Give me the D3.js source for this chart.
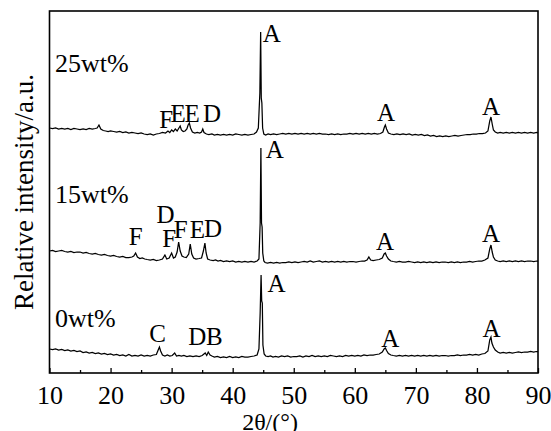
<!DOCTYPE html>
<html>
<head>
<meta charset="utf-8">
<script src="https://cdn.jsdelivr.net/npm/d3@7"></script>
<style>
  body { margin: 0; background: #fff; }
  svg { display: block; }
  svg text { font-family: "Liberation Serif", "DejaVu Serif", serif; fill: #000; }
</style>
</head>
<body>
<svg id="chart"></svg>
<script>
// 2θ (deg), relative intensity (a.u.), series already stacked
const pattern0 = [
  [10,24],[10.5,23.5],[11,24],[11.5,23],[12,23.5],[12.5,22.5],[13,23],[13.5,22],[14,22.5],[14.5,21.5],
  [15,22],[15.5,20.5],[16,21],[16.5,20],[17,20.5],[17.5,19.5],[18,20],[18.5,19],[19,19.5],[19.5,18.5],
  [20,19],[20.5,18],[21,18.5],[21.5,17.5],[22,18],[22.5,17],[23,18.5],[23.5,17],[24,17.5],[24.5,17],
  [25,18],[25.5,17],[26,17.5],[26.5,17],[27,18],[27.5,18.5],[27.8,23],[28.0,26],[28.2,22],[28.5,18],
  [28.9,17],[29.3,18],[29.7,17],[30.1,17.5],[30.5,20],[30.8,17],[31.2,17.5],[31.6,17],[32,17.5],[32.5,16.5],
  [33,17],[33.5,16.5],[34,17],[34.5,16.5],[35,17.5],[35.5,20],[35.75,17.5],[36.0,21],[36.3,18],[36.6,17],
  [37,16],[37.5,16.5],[38,15.5],[38.5,16],[39,15.5],[39.5,16.5],[40,15.5],[40.5,16],[41,15.5],[41.5,16.5],
  [42,16],[42.5,16],[43,16.5],[43.5,17],[44.0,18],[44.3,24],[44.5,60],[44.65,98],[44.75,72],[44.85,70],
  [44.95,28],[45.15,19],[45.4,17],[45.8,16.5],[46.2,17],[46.6,16],[47,16.5],[47.5,16],[48,17],[48.5,16.5],
  [49,17],[49.5,16],[50,16.5],[50.5,16.5],[51,17],[51.5,16],[52,17],[52.5,16.5],[53,17.5],[53.5,16.5],
  [54,17],[54.5,16.5],[55,17],[55.5,16.5],[56,17.5],[56.5,17],[57,16.5],[57.5,17],[58,16.5],[58.5,17.5],
  [59,17],[59.5,17.5],[60,17],[60.5,17.5],[61,17],[61.5,18],[62,17.5],[62.5,18],[63,18],[63.5,18.5],
  [64,19],[64.5,21],[64.8,24],[65.0,25],[65.2,22.5],[65.5,19.5],[65.9,18],[66.3,17.5],[66.8,17],[67.3,17.5],
  [67.8,17],[68.3,17.5],[68.8,17],[69.3,17.5],[69.8,17],[70.3,17.5],[70.8,17],[71.3,17.5],[71.8,17],[72.3,17.5],
  [72.8,17],[73.3,17.5],[73.8,17],[74.3,17.5],[74.8,17.5],[75.3,17],[75.8,17.5],[76.3,17.5],[76.8,18],[77.3,17.5],
  [77.8,18],[78.3,18],[78.8,18.5],[79.3,18],[79.8,18.5],[80.3,18],[80.8,19],[81.3,19.5],[81.8,22],[82.1,33],
  [82.3,36],[82.45,30],[82.7,26],[83.0,23],[83.4,21],[83.8,20],[84.3,20.5],[84.8,20],[85.3,20.5],[85.8,20],
  [86.3,20.5],[86.8,21],[87.3,20.5],[87.8,21],[88.3,21],[88.8,21.5],[89.3,21],[89.7,21.5],[90,21.5]
];

const pattern15 = [
  [10,122],[10.5,122.5],[11,121.5],[11.5,122],[12,122.5],[12.5,121.5],[13,121],[13.5,121.5],[14,120.5],[14.5,121],
  [15,121],[15.5,120],[16,120.5],[16.5,119.5],[17,119],[17.5,119.5],[18,118.5],[18.5,118],[19,118.5],[19.5,117.5],
  [20,117],[20.5,117.5],[21,116.5],[21.5,116],[22,116.5],[22.5,115.5],[23,115.5],[23.5,116],[23.8,117],[24.1,120],
  [24.4,116],[24.8,114.5],[25.2,115],[25.6,114],[26,113.5],[26.5,113],[27,113.5],[27.5,112.5],[28,113],[28.5,114],
  [28.9,118],[29.2,114],[29.6,115],[30.0,120],[30.3,115],[30.6,116],[30.9,121],[31.15,131],[31.4,122],[31.7,117],
  [32,116],[32.4,115.5],[32.8,119],[33.05,129],[33.3,119],[33.6,115],[34,114],[34.5,114.5],[34.9,115],[35.2,122],
  [35.45,130],[35.65,120],[35.9,114],[36.3,113],[36.8,112.5],[37.2,113],[37.6,112],[38,112.5],[38.5,111.5],[39,112],
  [39.5,111.5],[40,112],[40.5,111],[41,111.5],[41.5,111],[42,111.5],[42.5,111],[43,111.5],[43.5,111],[44,112],
  [44.3,114],[44.5,150],[44.62,225],[44.72,150],[44.82,146],[44.92,120],[45.1,112],[45.3,110.5],[45.7,110],[46.2,110.5],
  [46.7,110],[47.2,110.5],[47.7,110],[48.2,110.5],[48.7,110.5],[49.2,111],[49.7,110.5],[50.2,111],[50.7,110.5],[51.2,111],
  [51.7,111.5],[52.2,111],[52.7,112],[53.2,111],[53.7,111.5],[54.2,112],[54.7,111],[55.2,111.5],[55.7,111],[56.2,111.5],
  [56.7,111],[57.2,111.5],[57.7,111],[58.2,111.5],[58.7,111],[59.2,111.5],[59.7,111.5],[60.2,111],[60.7,111.5],[61.2,112],
  [61.6,112],[62.0,113],[62.3,116],[62.6,113],[63,112.5],[63.5,113],[64,113.5],[64.5,115],[64.8,119],[65.0,120],
  [65.2,117],[65.5,114],[65.9,112],[66.3,111.5],[66.8,111],[67.3,111.5],[67.8,111],[68.3,111],[68.8,111.5],[69.3,111],
  [69.8,110.5],[70.3,111],[70.8,110.5],[71.3,111],[71.8,110.5],[72.3,111],[72.8,110.5],[73.3,111],[73.8,110.5],[74.3,111],
  [74.8,111],[75.3,110.5],[75.8,111],[76.3,110.5],[76.8,111],[77.3,110.5],[77.8,111],[78.3,111],[78.8,111.5],[79.3,111],
  [79.8,111.5],[80.3,112],[80.8,112],[81.3,113],[81.8,115],[82.1,124],[82.3,128],[82.5,121],[82.7,116],[83,113],
  [83.4,112],[83.8,111.5],[84.3,112],[84.8,111.5],[85.3,112],[85.8,111.5],[86.3,112],[86.8,111.5],[87.3,112],[87.8,111.5],
  [88.3,112],[88.8,112],[89.3,111.5],[89.8,112],[90,112]
];

const pattern25 = [
  [10,245],[10.5,244.5],[11,245],[11.5,244],[12,244.5],[12.5,244],[13,244.5],[13.5,243.5],[14,244.5],[14.5,244],
  [15,243.5],[15.5,244],[16,243.5],[16.5,244.5],[17,244],[17.5,244.5],[17.8,245],[18.1,248],[18.4,244],[18.8,242.5],
  [19.2,242],[19.6,241.5],[20,242],[20.5,241.5],[21,241],[21.5,241.5],[22,240.5],[22.5,241],[23,240],[23.5,240.5],
  [24,240],[24.5,239.5],[25,240],[25.5,239],[26,238.5],[26.5,239],[27,238],[27.5,239],[28,239.5],[28.5,240.5],
  [29,240],[29.4,242],[29.7,240.5],[30,243],[30.3,241.5],[30.6,244],[30.9,242],[31.2,245],[31.4,247],[31.6,243],
  [31.9,241.5],[32.2,242],[32.5,244],[32.7,248],[32.9,250],[33.1,245],[33.4,241],[33.8,240],[34.2,240.5],[34.6,240],
  [34.9,241],[35.1,244],[35.3,240.5],[35.7,239],[36.1,238.5],[36.6,239],[37,238],[37.5,238.5],[38,238],[38.5,238.5],
  [39,238],[39.5,238.5],[40,238],[40.5,239],[41,238.5],[41.5,238],[42,238.5],[42.5,238],[43,238.5],[43.5,239],
  [43.9,241],[44.2,245],[44.45,280],[44.58,341],[44.68,275],[44.78,270],[44.9,245],[45.1,239],[45.4,238],[45.8,239],
  [46.2,238.5],[46.7,239],[47.2,238.5],[47.7,239],[48.2,239.5],[48.7,239],[49.2,239.5],[49.7,239],[50.2,239.5],[50.7,239],
  [51.2,239.5],[51.7,239],[52.2,239.5],[52.7,239],[53.2,239.5],[53.7,239],[54.2,239.5],[54.7,239],[55.2,239],[55.7,238.5],
  [56.2,239],[56.7,238.5],[57.2,239],[57.7,238.5],[58.2,239],[58.7,239],[59.2,239.5],[59.7,239],[60.2,239.5],[60.7,239],
  [61.2,239.5],[61.7,239],[62.2,239.5],[62.7,239],[63.2,239.5],[63.7,239],[64.2,239.5],[64.6,241],[64.85,246],[65.0,248],
  [65.2,244],[65.5,240],[65.9,239],[66.4,238.5],[66.9,239],[67.4,238.5],[67.9,239],[68.4,238.5],[68.9,239],[69.4,238],
  [69.9,238.5],[70.4,238],[70.9,238.5],[71.4,237.5],[71.9,238],[72.4,237],[72.9,237.5],[73.4,236.5],[73.9,237],[74.4,236.5],
  [74.9,237],[75.4,236.5],[75.9,237],[76.4,237.5],[76.9,237],[77.4,237.5],[77.9,238],[78.4,238.5],[78.9,238.5],[79.4,239],
  [79.9,239],[80.4,239.5],[80.9,239.5],[81.4,240],[81.8,242],[82.1,252],[82.3,256],[82.5,249],[82.7,243],[83,241],
  [83.4,240],[83.8,240.5],[84.3,240],[84.8,240.5],[85.3,240],[85.8,240.5],[86.3,240],[86.8,240.5],[87.3,240],[87.8,240.5],
  [88.3,240],[88.8,240.5],[89.3,240],[89.8,240.5],[90,240]
];

const patterns = [pattern0, pattern15, pattern25];

// sample names: [text, 2θ, intensity of text baseline]
const sampleLabels = [
  ["25wt%", 10.9, 301],
  ["15wt%", 10.9, 170],
  ["0wt%", 10.9, 46]
];

// phase marks: [letter, 2θ, intensity of text baseline]
const phaseLabels = [
  ["A", 46.4, 331], ["A", 65.1, 252], ["A", 82.3, 258],
  ["F", 29.1, 245], ["E", 31.05, 251], ["E", 33.35, 251], ["D", 36.6, 251],
  ["A", 46.9, 215], ["A", 64.95, 123], ["A", 82.3, 131],
  ["F", 24.1, 128], ["D", 29.0, 150], ["F", 29.6, 126], ["F", 31.5, 135], ["E", 34.2, 135], ["D", 36.8, 136],
  ["A", 47.2, 81], ["A", 65.8, 26], ["A", 82.4, 36],
  ["C", 27.7, 31], ["D", 34.2, 28], ["B", 37.0, 28]
];

const majorTicks = [10, 20, 30, 40, 50, 60, 70, 80, 90];
const minorTicks = [15, 25, 35, 45, 55, 65, 75, 85];

const W = 551, H = 431;
const plot = { left: 49.5, right: 538, top: 11, bottom: 373 };
const serif = "'Liberation Serif', 'DejaVu Serif', serif";

const svg = d3.select("#chart").attr("width", W).attr("height", H);

const x = d3.scaleLinear().domain([10, 90]).range([plot.left, plot.right]);
const y = d3.scaleLinear().domain([0, 362]).range([plot.bottom, plot.top]);

const line = d3.line()
  .x(d => x(d[0]))
  .y(d => y(d[1]));

svg.append("g")
  .selectAll("path")
  .data(patterns)
  .join("path")
  .attr("d", line)
  .attr("fill", "none")
  .attr("stroke", "#000")
  .attr("stroke-width", 1.25)
  .attr("stroke-linejoin", "miter");

// bottom axis, ticks pointing inward
const xAxis = svg.append("g")
  .attr("transform", `translate(0,${plot.bottom})`)
  .call(d3.axisBottom(x).tickValues(majorTicks).tickSize(-5).tickFormat(d3.format("d")))
  .attr("font-family", serif);
xAxis.select(".domain").remove();
xAxis.selectAll(".tick line").attr("stroke", "#000").attr("stroke-width", 1.3);
xAxis.selectAll(".tick text")
  .attr("y", 31)
  .attr("dy", 0)
  .attr("font-family", serif)
  .attr("font-size", 26);

const xMinor = svg.append("g")
  .attr("transform", `translate(0,${plot.bottom})`)
  .call(d3.axisBottom(x).tickValues(minorTicks).tickSize(-3).tickFormat(""));
xMinor.select(".domain").remove();
xMinor.selectAll(".tick line").attr("stroke", "#000").attr("stroke-width", 1.3);

// frame
svg.append("rect")
  .attr("x", plot.left)
  .attr("y", plot.top)
  .attr("width", plot.right - plot.left)
  .attr("height", plot.bottom - plot.top)
  .attr("fill", "none")
  .attr("stroke", "#000")
  .attr("stroke-width", 1.6);

svg.append("g")
  .attr("font-family", serif)
  .attr("font-size", 26)
  .selectAll("text")
  .data(sampleLabels)
  .join("text")
  .attr("x", d => x(d[1]))
  .attr("y", d => y(d[2]))
  .attr("text-anchor", "start")
  .text(d => d[0]);

svg.append("g")
  .attr("font-family", serif)
  .attr("font-size", 25)
  .selectAll("text")
  .data(phaseLabels)
  .join("text")
  .attr("x", d => x(d[1]))
  .attr("y", d => y(d[2]))
  .attr("text-anchor", "middle")
  .text(d => d[0]);

// axis titles
svg.append("text")
  .attr("x", 270)
  .attr("y", 430)
  .attr("text-anchor", "middle")
  .attr("font-family", serif)
  .attr("font-size", 24)
  .text("2θ/(°)");

svg.append("text")
  .attr("transform", "translate(33,192) rotate(-90)")
  .attr("text-anchor", "middle")
  .attr("font-family", serif)
  .attr("font-size", 27)
  .text("Relative intensity/a.u.");
</script>
</body>
</html>
